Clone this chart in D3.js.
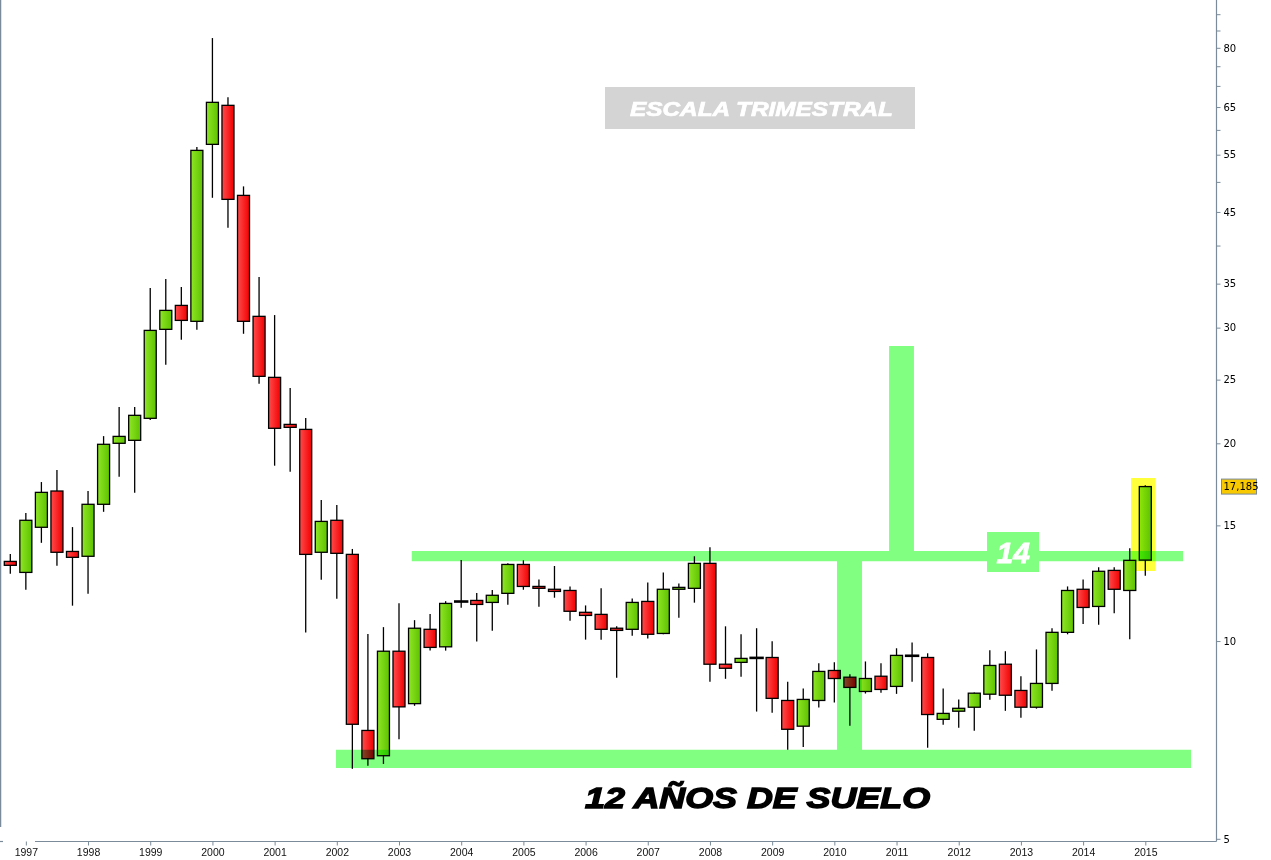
<!DOCTYPE html>
<html>
<head>
<meta charset="utf-8">
<script src="https://cdn.jsdelivr.net/npm/d3@7"></script>
<style>
	body { margin: 0; background: #fff; }
	#chart svg { display: block; }
</style>
</head>
<body>
<div id="chart"></div>
<script>
// Quarterly candles, 1996 Q4 .. 2015 Q1
var years = [1997, 1998, 1999, 2000, 2001, 2002, 2003, 2004, 2005, 2006,
	2007, 2008, 2009, 2010, 2011, 2012, 2013, 2014, 2015];
var quarters = ['1996T4'];
years.forEach(function(y) {
	['T1', 'T2', 'T3', 'T4'].forEach(function(q) {
		if (y < 2015 || q == 'T1') quarters.push(y + q);
	});
});

var opens = [13.22, 12.72, 14.90, 16.92, 13.69, 13.46, 16.15, 20.00, 20.21, 21.83,
	29.82, 32.43, 30.67, 57.03, 65.39, 47.69, 31.21, 25.20, 21.37, 21.00,
	13.65, 15.27, 13.55, 7.31, 6.69, 9.65, 8.03, 10.42, 9.80, 11.49,
	11.53, 11.45, 11.82, 13.08, 12.11, 11.99, 11.94, 11.06, 10.98, 10.46,
	10.42, 11.49, 10.27, 11.99, 12.03, 13.13, 9.22, 9.28, 9.43, 9.44,
	8.12, 7.42, 8.12, 9.02, 8.81, 8.38, 8.84, 8.53, 9.50, 9.44,
	7.60, 7.82, 7.93, 8.30, 9.22, 8.41, 7.93, 8.62, 10.31, 11.99,
	11.29, 12.81, 11.94, 13.28];
var highs = [13.57, 15.66, 17.46, 18.21, 14.91, 16.92, 20.51, 22.71, 22.71, 34.46,
	35.57, 34.58, 56.49, 82.78, 67.24, 49.22, 35.82, 31.35, 24.27, 21.85,
	16.39, 16.11, 13.81, 10.25, 10.50, 11.42, 10.76, 10.99, 11.50, 13.28,
	11.83, 11.96, 13.13, 13.27, 12.41, 13.01, 12.11, 11.33, 12.03, 10.53,
	11.61, 12.28, 12.72, 12.24, 13.46, 13.89, 10.53, 10.24, 10.46, 9.99,
	8.67, 8.47, 9.25, 9.28, 8.90, 9.31, 9.25, 9.75, 9.95, 9.58,
	8.47, 8.15, 8.35, 9.68, 9.65, 8.84, 9.71, 10.46, 12.11, 12.41,
	12.95, 12.95, 13.84, 17.26];
var lows = [12.66, 11.97, 14.11, 13.02, 11.32, 11.80, 15.73, 17.79, 16.82, 21.70,
	26.34, 28.75, 29.78, 47.29, 42.57, 29.36, 24.64, 18.49, 18.10, 10.30,
	12.40, 11.60, 6.39, 6.46, 6.50, 7.09, 7.97, 9.67, 9.67, 11.24,
	9.98, 10.37, 11.36, 11.97, 11.28, 11.64, 10.74, 10.05, 10.05, 8.79,
	10.19, 10.09, 10.24, 10.85, 11.44, 8.67, 8.76, 8.82, 7.81, 7.78,
	6.83, 6.90, 7.92, 8.06, 7.43, 8.32, 8.34, 8.31, 8.67, 6.88,
	7.46, 7.38, 7.30, 8.14, 7.83, 7.64, 7.89, 8.40, 10.24, 10.62,
	10.59, 11.02, 10.06, 12.57];
var closes = [13.04, 15.27, 16.84, 13.65, 13.41, 16.15, 19.93, 20.49, 22.06, 29.71,
	31.87, 30.77, 55.84, 66.08, 47.03, 30.67, 25.29, 21.08, 21.15, 13.55,
	15.21, 13.60, 7.47, 6.62, 9.65, 7.94, 10.46, 9.78, 11.41, 11.49,
	11.37, 11.74, 13.08, 12.11, 12.03, 11.90, 11.10, 10.94, 10.42, 10.38,
	11.45, 10.24, 11.99, 12.07, 13.13, 9.22, 9.09, 9.41, 9.43, 8.18,
	7.34, 8.15, 8.99, 8.77, 8.50, 8.77, 8.44, 9.51, 9.50, 7.73,
	7.76, 7.90, 8.33, 9.18, 8.27, 7.93, 8.62, 10.31, 11.94, 11.25,
	12.77, 11.99, 13.27, 17.185];

var yTicks = [5, 10, 15, 20, 25, 30, 35, 40, 45, 50, 55, 60, 65, 70, 75, 80, 85, 90];
var yLabels = [5, 10, 15, 20, 25, 30, 35, 45, 55, 65, 80];

var W = 1271, H = 860;
var axisColor = '#7b8b99';

var svg = d3.select('#chart').append('svg')
	.attr('width', W).attr('height', H)
	.style('background', '#fff');

var x = d3.scaleLinear().domain([0, quarters.length - 1]).range([10.3, 1145.3]);
var y = d3.scaleLog().domain([5, 90]).range([838.8, 14.2]);
var bodyW = 12;

var defs = svg.append('defs');
function grad(id, c1, c2) {
	var g = defs.append('linearGradient').attr('id', id)
		.attr('x1', '0%').attr('x2', '100%').attr('y1', '0%').attr('y2', '0%');
	g.append('stop').attr('offset', '0%').attr('stop-color', c1);
	g.append('stop').attr('offset', '100%').attr('stop-color', c2);
}
grad('gUp', '#8ee626', '#5ec200');
grad('gDown', '#ff4c4c', '#f20000');

var data = quarters.map(function(q, i) {
	return {q: q, i: i, o: opens[i], h: highs[i], l: lows[i], c: closes[i]};
});

// frame
svg.append('line').attr('x1', 0.5).attr('x2', 0.5).attr('y1', 0).attr('y2', 827)
	.attr('stroke', axisColor).attr('stroke-width', 1.5);
svg.append('line').attr('x1', 35).attr('x2', 1216.5).attr('y1', 841.5).attr('y2', 841.5)
	.attr('stroke', axisColor).attr('stroke-width', 1.2);
svg.append('line').attr('x1', 0).attr('x2', 3).attr('y1', 841.5).attr('y2', 841.5)
	.attr('stroke', axisColor).attr('stroke-width', 1.2);
svg.append('line').attr('x1', 1216.5).attr('x2', 1216.5).attr('y1', 0).attr('y2', 841.5)
	.attr('stroke', axisColor).attr('stroke-width', 1.2);

// right log axis
var yAxis = d3.axisRight(y)
	.tickValues(yTicks)
	.tickFormat(function(d) { return yLabels.indexOf(d) >= 0 ? d : ''; })
	.tickSize(4).tickSizeOuter(0).tickPadding(3);
var ya = svg.append('g')
	.attr('transform', 'translate(1216.5,0)')
	.call(yAxis);
ya.select('.domain').remove();
ya.selectAll('line').attr('stroke', axisColor);
ya.selectAll('text')
	.style('font-family', '"DejaVu Sans", Verdana, sans-serif')
	.style('font-size', '10px')
	.attr('fill', '#000');

// bottom year axis
var xAxis = d3.axisBottom(x)
	.tickValues(years.map(function(yr, k) { return 1 + 4 * k; }))
	.tickFormat(function(d, k) { return years[k]; })
	.tickSize(4).tickSizeOuter(0).tickPadding(3);
var xa = svg.append('g')
	.attr('transform', 'translate(0,841.5)')
	.call(xAxis);
xa.select('.domain').remove();
xa.selectAll('line').attr('stroke', axisColor);
xa.selectAll('text')
	.style('font-family', '"Liberation Sans", Arial, sans-serif')
	.style('font-size', '10.5px')
	.attr('fill', '#111');

// candles
var candles = svg.append('g').attr('class', 'candles');
candles.selectAll('line.wick')
	.data(data)
	.enter()
	.append('line')
	.attr('class', 'wick')
	.attr('x1', function(d) { return x(d.i); })
	.attr('x2', function(d) { return x(d.i); })
	.attr('y1', function(d) { return y(d.h); })
	.attr('y2', function(d) { return y(d.l); })
	.attr('stroke', '#000')
	.attr('stroke-width', 1.3);
candles.selectAll('rect.body')
	.data(data)
	.enter()
	.append('rect')
	.attr('class', 'body')
	.attr('x', function(d) { return x(d.i) - bodyW / 2; })
	.attr('width', bodyW)
	.attr('y', function(d) { return y(Math.max(d.o, d.c)); })
	// zero height rects are not rendered, keep dojis as a thin line
	.attr('height', function(d) { return Math.max(0.2, Math.abs(y(d.o) - y(d.c))); })
	.attr('fill', function(d) { return d.c >= d.o ? 'url(#gUp)' : 'url(#gDown)'; })
	.attr('stroke', '#000')
	.attr('stroke-width', function(d) { return d.o == d.c ? 2.4 : 1.3; });

// hand drawn highlight shapes (quarter index / price units), multiplied over chart
function rectPath(r) {
	var x0 = x(r[0]), x1 = x(r[1]), y0 = y(r[3]), y1 = y(r[2]);
	return 'M' + x0 + ',' + y0 + 'H' + x1 + 'V' + y1 + 'H' + x0 + 'Z';
}
var greenShapes = [
	[20.95, 75.94, 6.41, 6.83],
	[25.82, 75.43, 13.23, 13.71],
	[53.17, 54.78, 6.83, 13.23],
	[56.52, 58.12, 13.71, 28.12],
	[62.82, 66.17, 12.74, 14.65]
];
svg.append('path')
	.attr('d', greenShapes.map(rectPath).join(''))
	.attr('fill', '#80ff80')
	.style('mix-blend-mode', 'multiply');
svg.append('path')
	.attr('d', rectPath([72.08, 73.67, 12.78, 17.71]))
	.attr('fill', '#ffff3c')
	.style('mix-blend-mode', 'multiply');

svg.append('text')
	.attr('x', x(64.5)).attr('y', 563)
	.attr('text-anchor', 'middle')
	.attr('fill', '#fff').attr('stroke', '#fff').attr('stroke-width', 0.8)
	.style('font-family', '"Liberation Sans", Arial, sans-serif')
	.style('font-weight', 'bold').style('font-style', 'italic')
	.style('font-size', '30px')
	.text('14');

// last price tag
var last = closes[closes.length - 1];
svg.append('rect')
	.attr('x', 1221.5).attr('y', y(last) - 7.5)
	.attr('width', 35).attr('height', 15)
	.attr('fill', '#f8c800').attr('stroke', axisColor).attr('stroke-width', 1);
svg.append('text')
	.attr('x', 1223.5).attr('y', y(last))
	.attr('dy', '0.35em')
	.style('font-family', '"DejaVu Sans", Verdana, sans-serif')
	.style('font-size', '10px')
	.attr('fill', '#000')
	.text(String(last).replace('.', ','));

// titles
svg.append('rect')
	.attr('x', 605).attr('y', 87).attr('width', 310).attr('height', 42)
	.attr('fill', '#d4d4d4');
svg.append('text')
	.attr('x', 630).attr('y', 116)
	.attr('textLength', 263).attr('lengthAdjust', 'spacingAndGlyphs')
	.attr('fill', '#fff').attr('stroke', '#fff').attr('stroke-width', 0.7)
	.style('font-family', '"Liberation Sans", Arial, sans-serif')
	.style('font-weight', 'bold').style('font-style', 'italic')
	.style('font-size', '20px')
	.text('ESCALA TRIMESTRAL');

svg.append('text')
	.attr('x', 585).attr('y', 808)
	.attr('textLength', 345).attr('lengthAdjust', 'spacingAndGlyphs')
	.attr('fill', '#000').attr('stroke', '#000').attr('stroke-width', 1.4)
	.style('font-family', '"Liberation Sans", Arial, sans-serif')
	.style('font-weight', 'bold').style('font-style', 'italic')
	.style('font-size', '29px')
	.text('12 AÑOS DE SUELO');
</script>
</body>
</html>
